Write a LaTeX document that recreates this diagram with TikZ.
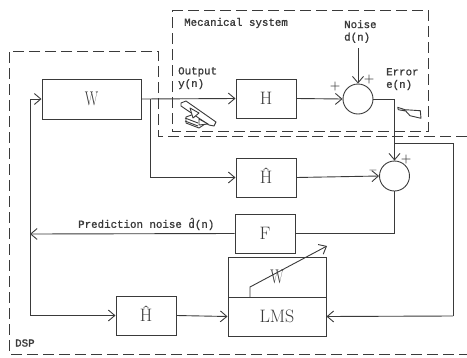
\documentclass[tikz,border=0pt]{standalone}
\usepackage{fontspec}
\usepackage{graphicx}
\setmainfont{Latin Modern Roman}
\newfontfamily\labfont[FakeBold=1.2]{Liberation Mono}
\usetikzlibrary{arrows.meta,calc}
\definecolor{ink}{HTML}{3A3A3A}
\tikzset{
 wire/.style={draw=ink,line width=0.9pt},
 arr/.style={wire,-{Straight Barb[length=6.5pt,width=11pt,line width=0.9pt]}},
 blockbox/.style={draw=ink,line width=1pt,rectangle,inner sep=0pt,font=\fontsize{18}{18}\selectfont,text=ink,text height=12pt,text depth=0pt},
 sumnode/.style={draw=ink,line width=0.9pt,circle,minimum size=30pt,inner sep=0pt},
 dashbox/.style={draw=ink,line width=1pt,dash pattern=on 11pt off 5pt},
 lab/.style={font=\labfont\fontsize{10.8}{12.5}\selectfont,text=ink,align=left,inner sep=0pt},
 sgn/.style={font=\bfseries\fontsize{12}{12}\selectfont,text=ink,inner sep=0pt},
 icon/.style={draw=ink,line width=0.9pt,fill=white,line join=round}
}
\begin{document}
\begin{tikzpicture}[x=1pt,y=-1pt]
\useasboundingbox (0,0) rectangle (467,357);
% dashed frames
\draw[dashbox] (172,10) -- (428,10) -- (428,131) -- (172,131) -- cycle;
\draw[dashbox] (467,136) -- (158,136) -- (158,51) -- (9,51) -- (9,354) -- (467,354);
% blocks
\node[blockbox,minimum width=99pt,minimum height=40pt] (W) at (91.5,99) {\scalebox{0.78}[1.1]{W}};
\node[blockbox,minimum width=60pt,minimum height=39pt] (H) at (266,98.5) {H};
\node[blockbox,minimum width=60pt,minimum height=39pt] (H2) at (266,177.5) {Ĥ};
\node[blockbox,minimum width=60pt,minimum height=39pt] (F) at (265,233.5) {F};
\node[blockbox,minimum width=98pt,minimum height=40pt] (Wa) at (277,277) {\scalebox{0.78}[1.1]{W}};
\node[blockbox,minimum width=98pt,minimum height=39pt] (LMS) at (277,316.5) {LMS};
\node[blockbox,minimum width=60pt,minimum height=39pt] (H3) at (146,315.5) {Ĥ};
\node[sumnode] (S1) at (358,99) {};
\node[sumnode] (S2) at (394.5,176) {};
% junctions and free ends
\coordinate (jW) at (150,99);
\coordinate (jE) at (394.5,143);
\coordinate (jL) at (30,234);
\coordinate (nz) at (358,48);
\coordinate (ad0) at (250,297);
\coordinate (ad1) at (250,287);
\coordinate (ad2) at (327,246);
% connectors
\draw[arr] (W.east) -- (H.west);
\draw[arr] (jW) |- (H2.west);
\draw[arr] (H.east) -- (S1.west);
\draw[arr] (H2.east) -- (S2.west);
\draw[arr] (nz) -- (S1.north);
\draw[arr] (S1.east) -| (S2.north);
\draw[wire] (jE) -- (453,143) -- (453,316);
\draw[arr] (453,316) -- (LMS.east);
\draw[wire] (S2.south) |- (F.east);
\draw[arr] (F.west) -- (jL);
\draw[arr] (jL) |- (H3.west);
\draw[arr] (jL) |- (W.west);
\draw[arr] (H3.east) -- (LMS.west);
\draw[arr] (ad0) -- (ad1) -- (ad2);
% labels
\node[lab,anchor=west] (t1) at (184,23) {Mecanical system};
\node[lab,anchor=north west] (t2) at (344,20) {Noise\\d(n)};
\node[lab,anchor=north west] (t3) at (178,67) {Output\\y(n)};
\node[lab,anchor=north west] (t4) at (386,68) {Error\\e(n)};
\node[lab,anchor=west] (t5) at (78,224) {Prediction noise d̂(n)};
\node[lab,anchor=west] (t6) at (15,343) {DSP};
\node[sgn] (p1) at (335,87) {+};
\node[sgn] (p2) at (369,80) {+};
\node[sgn] (p3) at (406,160) {+};
\node[sgn] (m1) at (373,170) {$-$};
% actuator icon
\draw[icon] (186,117) -- (197,113) -- (205,124) -- (199,128) -- (186,123) -- cycle;
\draw[icon] (185,118) -- (198,123);
\draw[icon] (185,121) -- (198,126);
\draw[icon] (181,103) -- (186,101) -- (216,122) -- (214,126) -- (209,125) -- (181,106) -- cycle;
\draw[icon] (190,108) -- (199,113) -- (193,118) -- cycle;
\draw[icon] (199,119) -- (208,124) -- (199,125) -- cycle;
% sensor icon
\draw[icon] (397.7,107.3) -- (405,109.7) -- (420.3,110.7) -- (421,118.3) -- (410,115.7) -- (405.7,111) -- (398.3,109.7) -- cycle;
\end{tikzpicture}
\end{document}
